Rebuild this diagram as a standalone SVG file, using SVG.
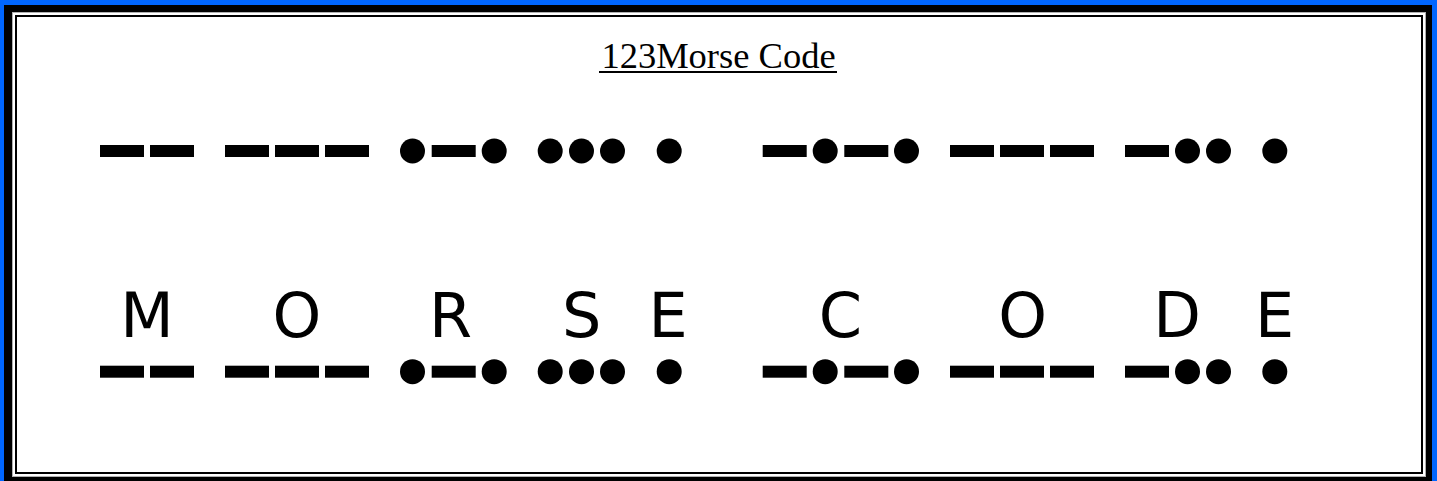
<svg xmlns="http://www.w3.org/2000/svg" xmlns:xlink="http://www.w3.org/1999/xlink" width="1437" height="481" viewBox="0 0 1437 481">
  <style>
    .letter { font-family: "DejaVu Sans", "Liberation Sans", sans-serif; font-size: 62px; fill: #000; text-anchor: middle; }
    .title { font-family: "Liberation Serif", "Times New Roman", serif; font-size: 36.5px; fill: #000; text-anchor: middle; }
    .dash { fill: #000; }
    .dot { fill: #000; }
  </style>
  <defs>
    <rect id="dash" class="dash" x="0" y="-6" width="44" height="12"/>
    <circle id="dot" class="dot" cx="0" cy="0" r="12.5"/>
  </defs>

  <g id="frame">
    <rect x="0" y="0" width="1437" height="481" fill="#0066ff"/>
    <rect x="4" y="5" width="1428" height="476" fill="#000"/>
    <rect x="12" y="12" width="1414" height="465" fill="#b0b0b0"/>
    <rect x="13" y="13" width="1412" height="463" fill="#fff"/>
    <rect x="16" y="16" width="1406" height="457" fill="#fff" stroke="#000" stroke-width="2"/>
  </g>

  <g id="title">
    <text class="title" x="718.5" y="68">123Morse Code</text>
    <rect x="599" y="71" width="238" height="2" fill="#000"/>
  </g>

  <g id="letter-M">
    <g id="M-code">
      <use xlink:href="#dash" x="100" y="151"/>
      <use xlink:href="#dash" x="150" y="151"/>
    </g>
    <text class="letter" x="147" y="337">M</text>
    <use xlink:href="#M-code" transform="translate(0,220.7)"/>
  </g>

  <g id="letter-O1">
    <g id="O1-code">
      <use xlink:href="#dash" x="225" y="151"/>
      <use xlink:href="#dash" x="275" y="151"/>
      <use xlink:href="#dash" x="325" y="151"/>
    </g>
    <text class="letter" x="297" y="337">O</text>
    <use xlink:href="#O1-code" transform="translate(0,220.7)"/>
  </g>

  <g id="letter-R">
    <g id="R-code">
      <use xlink:href="#dot" x="412.5" y="151"/>
      <use xlink:href="#dash" x="431.7" y="151"/>
      <use xlink:href="#dot" x="494.2" y="151"/>
    </g>
    <text class="letter" x="450.5" y="337">R</text>
    <use xlink:href="#R-code" transform="translate(0,220.7)"/>
  </g>

  <g id="letter-S">
    <g id="S-code">
      <use xlink:href="#dot" x="550.2" y="151"/>
      <use xlink:href="#dot" x="581.5" y="151"/>
      <use xlink:href="#dot" x="612.5" y="151"/>
    </g>
    <text class="letter" x="581.7" y="337">S</text>
    <use xlink:href="#S-code" transform="translate(0,220.7)"/>
  </g>

  <g id="letter-E1">
    <g id="E1-code">
      <use xlink:href="#dot" x="669.2" y="151"/>
    </g>
    <text class="letter" x="668" y="337">E</text>
    <use xlink:href="#E1-code" transform="translate(0,220.7)"/>
  </g>

  <g id="letter-C">
    <g id="C-code">
      <use xlink:href="#dash" x="762.7" y="151"/>
      <use xlink:href="#dot" x="825.2" y="151"/>
      <use xlink:href="#dash" x="844.3" y="151"/>
      <use xlink:href="#dot" x="906.5" y="151"/>
    </g>
    <text class="letter" x="840.5" y="337">C</text>
    <use xlink:href="#C-code" transform="translate(0,220.7)"/>
  </g>

  <g id="letter-O2">
    <g id="O2-code">
      <use xlink:href="#dash" x="950" y="151"/>
      <use xlink:href="#dash" x="1000" y="151"/>
      <use xlink:href="#dash" x="1050" y="151"/>
    </g>
    <text class="letter" x="1022.7" y="337">O</text>
    <use xlink:href="#O2-code" transform="translate(0,220.7)"/>
  </g>

  <g id="letter-D">
    <g id="D-code">
      <use xlink:href="#dash" x="1125" y="151"/>
      <use xlink:href="#dot" x="1187.5" y="151"/>
      <use xlink:href="#dot" x="1218.5" y="151"/>
    </g>
    <text class="letter" x="1177" y="337">D</text>
    <use xlink:href="#D-code" transform="translate(0,220.7)"/>
  </g>

  <g id="letter-E2">
    <g id="E2-code">
      <use xlink:href="#dot" x="1274.8" y="151"/>
    </g>
    <text class="letter" x="1274.5" y="337">E</text>
    <use xlink:href="#E2-code" transform="translate(0,220.7)"/>
  </g>

  <g id="connectors"/>
</svg>
